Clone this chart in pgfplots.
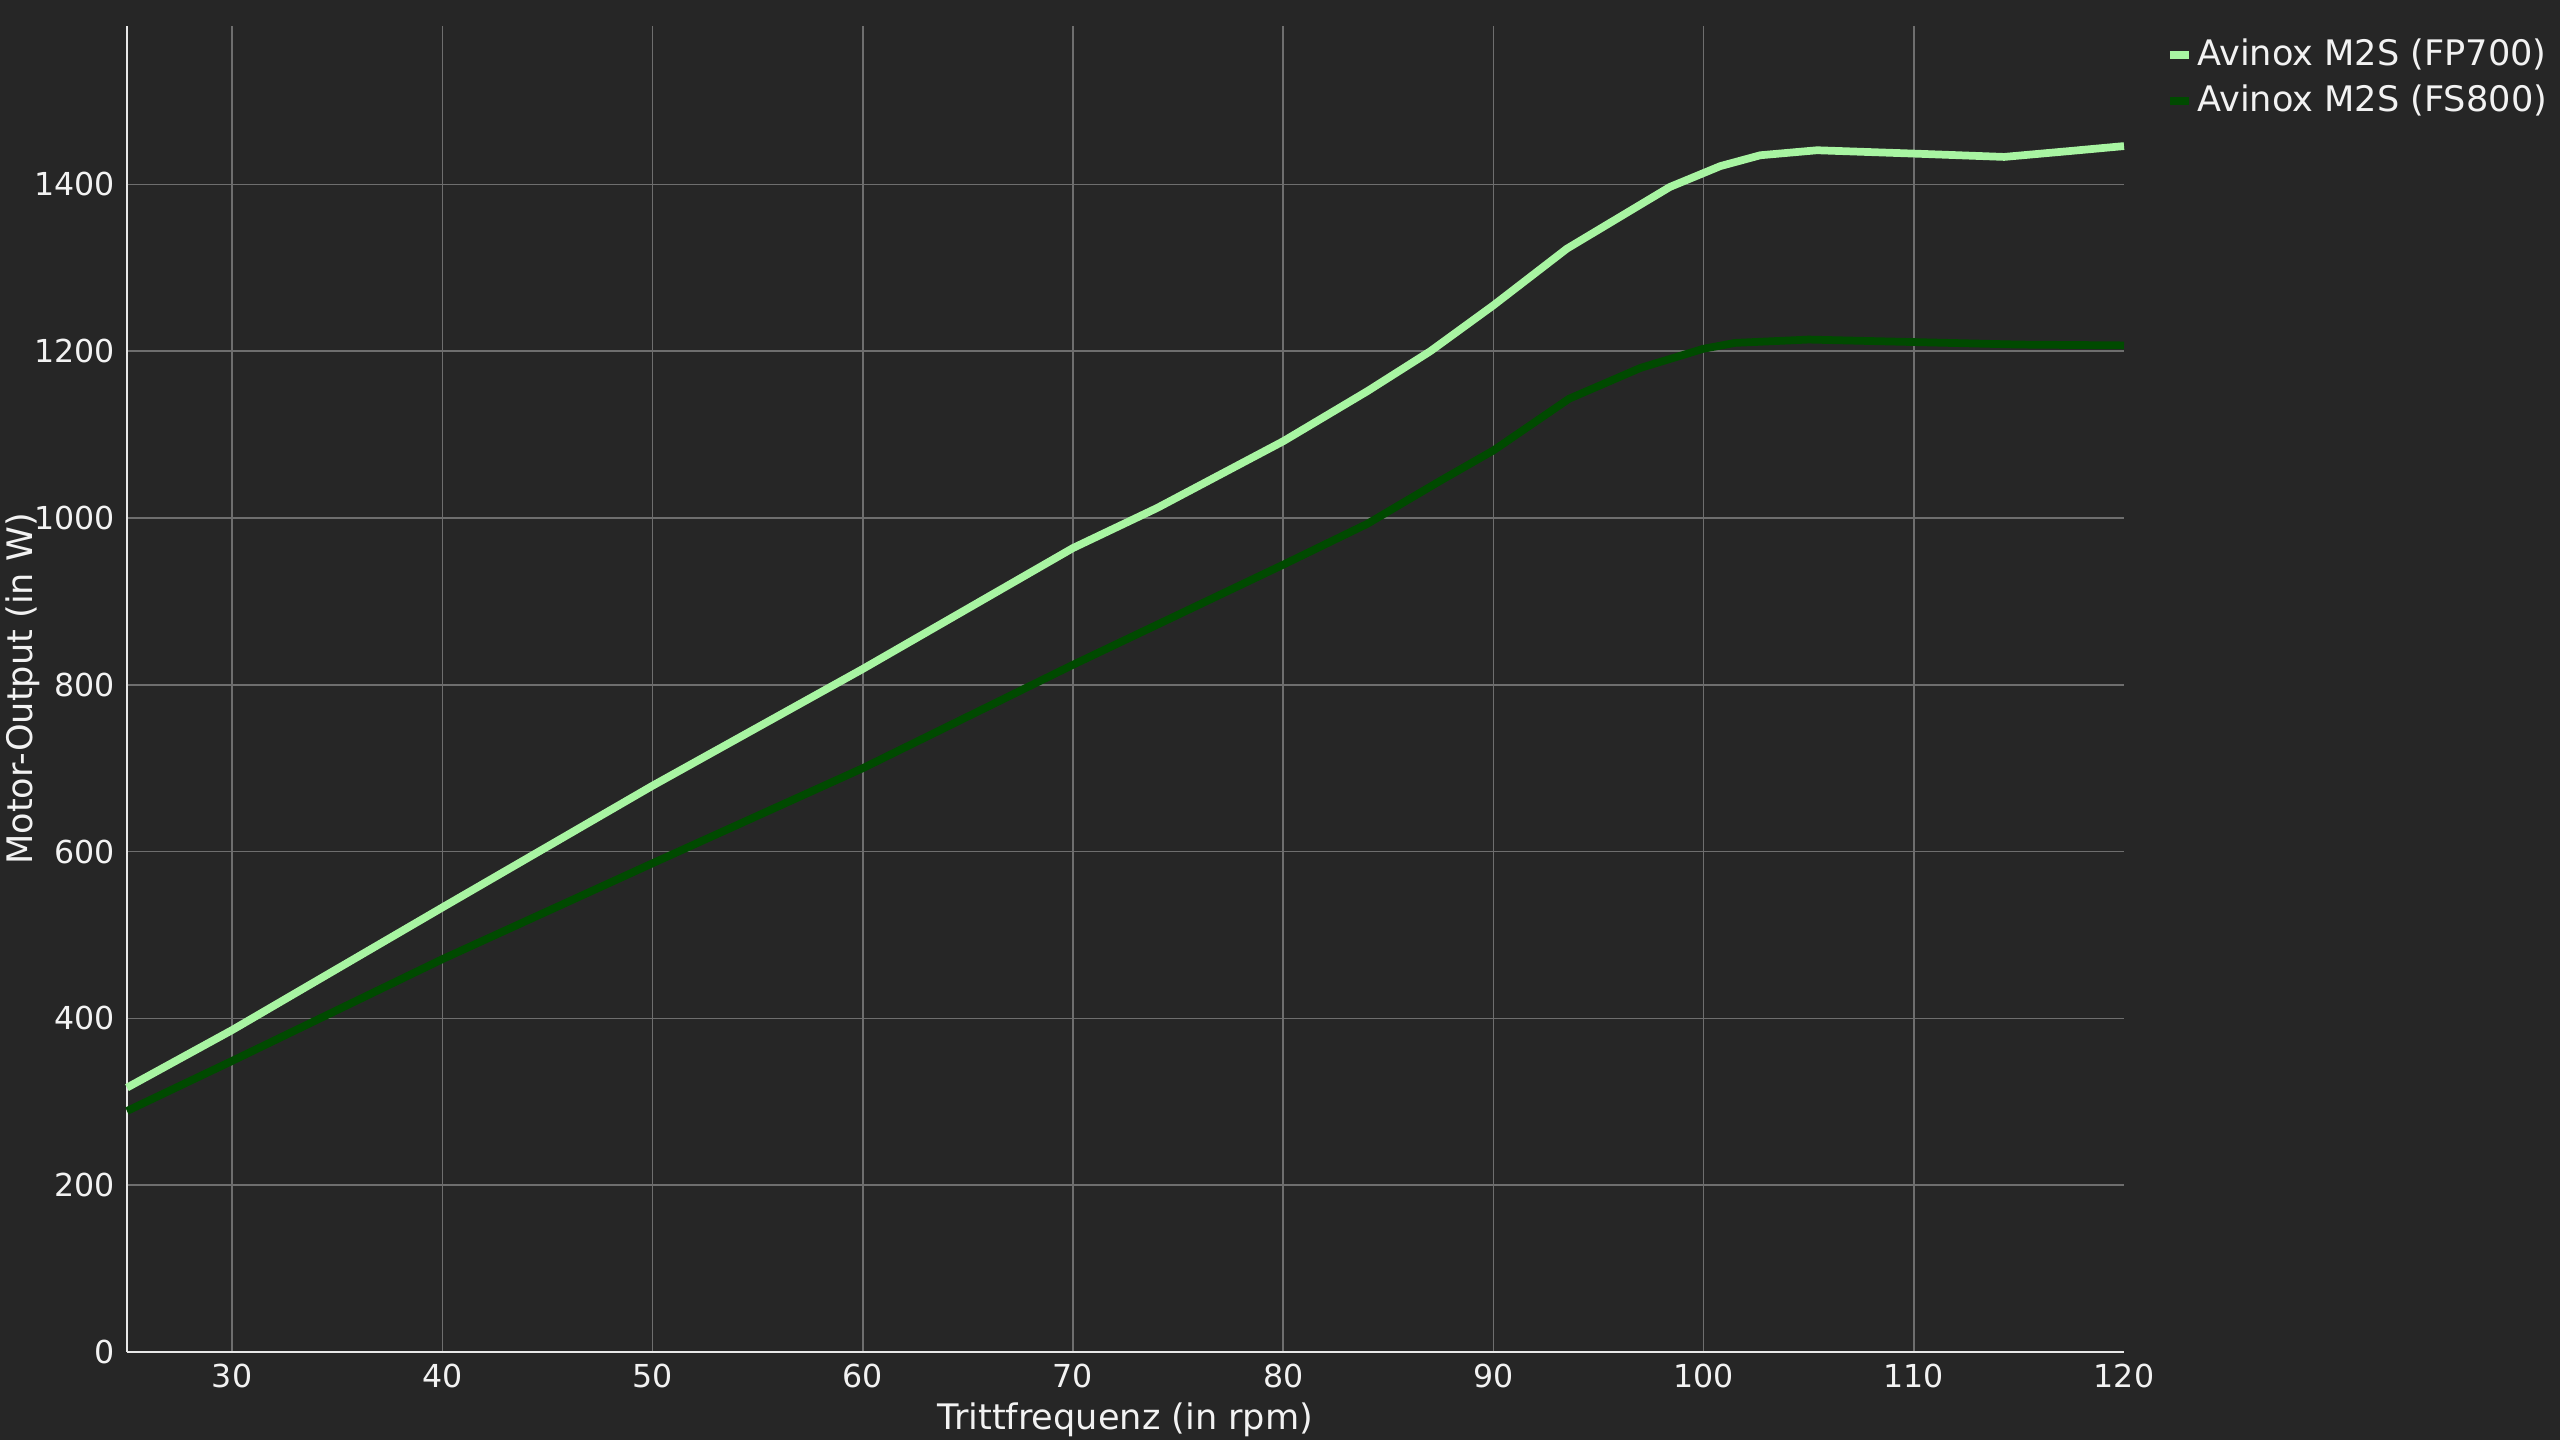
\documentclass[border=0pt]{standalone}
\usepackage{fontspec}
\setmainfont{DejaVu Sans}
\usepackage{pgfplots}
\pgfplotsset{compat=1.18}
\definecolor{bg}{HTML}{262626}
\definecolor{lightg}{HTML}{A8F5A2}
\definecolor{darkg}{HTML}{004A00}
\definecolor{gridc}{HTML}{6E6E6E}
\definecolor{axc}{HTML}{E8E8E8}
\definecolor{txt}{HTML}{F2F2F2}
\begin{document}
\begin{tikzpicture}[x=1cm,y=1cm]
\fill[bg] (-1.27,-0.88) rectangle (24.33,13.52);
\begin{axis}[
  at={(0,0)}, anchor=south west,
  scale only axis,
  width=19.97cm, height=13.26cm,
  xmin=25, xmax=120, ymin=0, ymax=1590,
  axis lines*=left,
  axis line style={axc, line width=0.6pt},
  every inner x axis line/.append style={-},
  every inner y axis line/.append style={-},
  xtick={30,40,...,110},
  extra x ticks={120},
  extra x tick style={grid=none},
  ytick={0,200,...,1400},
  major tick length=0pt,
  grid=major,
  major grid style={gridc, line width=0.45pt},
  tick label style={txt, font=\fontsize{9}{11}\selectfont},
  /pgf/number format/assume math mode=true,
  /pgf/number format/1000 sep={},
  xlabel={Trittfrequenz (in rpm)},
  ylabel={Motor-Output (in W)},
  label style={txt, font=\fontsize{10}{12}\selectfont},
  xlabel style={at={(axis description cs:0.5,-0.0513)}, anchor=center},
  ylabel style={at={(axis description cs:-0.052,0.5)}, anchor=center, rotate=0},
  legend style={at={(axis description cs:1.0205,0.996)}, anchor=north west,
    draw=none, fill=none, text=txt, font=\fontsize{10}{12}\selectfont,
    inner sep=0pt, row sep=0pt,
    nodes={inner xsep=1.2pt},
    cells={anchor=west}},
  legend cell align=left,
  legend image code/.code={\draw[#1, line width=2.4pt] (0cm,0cm) -- (0.19cm,0cm);},
  clip=false,
]
\addplot[lightg, line width=2.2pt, line join=round] coordinates {
(25,317) (30,386) (40,533) (50,679) (60,819) (70,964) (74,1012) (80,1092)
(84,1152) (87,1200) (90,1255) (93.5,1323) (98.4,1397) (100.8,1422) (102.7,1435)
(105.4,1441) (110,1437) (114.3,1433) (117.4,1440) (120,1446)
};
\addlegendentry{Avinox M2S (FP700)}
\addplot[darkg, line width=2.2pt, line join=round] coordinates {
(25,289) (30,349) (40,471) (50,586) (60,700) (70,824) (80,944) (84,993)
(87.5,1045) (90,1081) (93.6,1143) (97,1180) (100,1203) (101.5,1210) (105,1214)
(110,1211) (115,1208) (120,1207)
};
\addlegendentry{Avinox M2S (FS800)}
\end{axis}
\pgfresetboundingbox
\path (-1.27,-0.88) rectangle (24.33,13.52);
\end{tikzpicture}
\end{document}
